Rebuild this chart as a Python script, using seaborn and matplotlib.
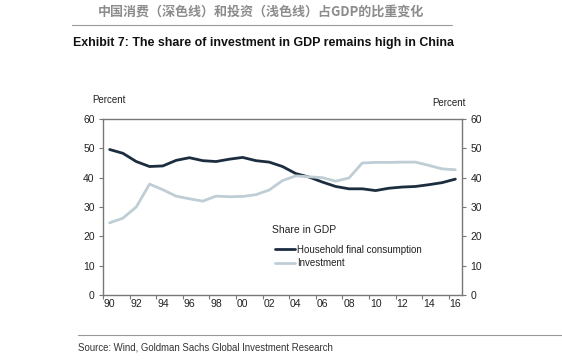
import matplotlib
matplotlib.use("Agg")
import matplotlib.pyplot as plt
import seaborn as sns
import pandas as pd
import numpy as np

years = list(range(1990, 2017))
consumption = [49.6, 48.3, 45.5, 43.8, 44.0, 45.9, 46.8, 45.8, 45.5, 46.3,
               46.9, 45.8, 45.3, 43.8, 41.4, 40.2, 38.5, 37.0, 36.2, 36.2,
               35.6, 36.4, 36.8, 37.0, 37.6, 38.3, 39.5]
investment = [24.6, 26.2, 30.0, 37.8, 35.9, 33.7, 32.8, 32.0, 33.7, 33.5,
              33.6, 34.2, 35.8, 39.0, 40.6, 40.3, 40.0, 38.8, 39.9, 45.0,
              45.2, 45.2, 45.3, 45.3, 44.2, 43.0, 42.7]
series_names = ["Household final consumption", "Investment"]
colors = ["#1b2d3e", "#bfcdd5"]
yticks = [0, 10, 20, 30, 40, 50, 60]
xtick_years = list(range(1990, 2017, 2))
xtick_labels = [f"{y % 100:02d}" for y in xtick_years]

df = pd.DataFrame({
    "year": years * 2,
    "value": consumption + investment,
    "series": [series_names[0]] * len(years) + [series_names[1]] * len(years),
})

sns.set_style("white")
plt.rcParams["font.family"] = ["Liberation Sans", "DejaVu Sans"]

fig = plt.figure(figsize=(5.62, 3.60), dpi=100)
ax = fig.add_axes([103 / 562, 1 - 295 / 360, (462 - 103) / 562, (295 - 119) / 360])

sns.lineplot(data=df, x="year", y="value", hue="series", palette=colors,
             linewidth=2.0, ax=ax, legend=True)

ax.set_xlim(1989.5, 2016.5)
ax.set_ylim(0, 60)
ax.set_xlabel("")
ax.set_ylabel("")

spine_c = "#777777"
for s in ax.spines.values():
    s.set_color(spine_c)
    s.set_linewidth(1.0)
    s.set_visible(True)

# x ticks at bin boundaries, labels centered in year bins
ax.set_xticks([y - 0.5 for y in xtick_years])
ax.set_xticklabels([])
ax.set_xticks(xtick_years, minor=True)
ax.set_xticklabels(xtick_labels, minor=True, fontsize=7.5, color="#222222")
ax.tick_params(axis="x", which="major", direction="out", length=3, width=0.8,
               color=spine_c, bottom=True)
ax.tick_params(axis="x", which="minor", length=0, pad=3)

ax.set_yticks(yticks)
ax.set_yticklabels([str(v) for v in yticks], fontsize=7.5, color="#222222")
ax.tick_params(axis="y", direction="out", length=3, width=0.8, color=spine_c,
               left=True, pad=3)

ax2 = ax.twinx()
ax2.set_ylim(0, 60)
ax2.set_yticks(yticks)
ax2.set_yticklabels([str(v) for v in yticks], fontsize=7.5, color="#222222")
ax2.tick_params(axis="y", direction="out", length=3, width=0.8, color=spine_c,
                right=True, pad=3)
for s in ax2.spines.values():
    s.set_visible(False)

ax.text(-0.03, 1.11, "Percent", transform=ax.transAxes, fontsize=7,
        ha="left", va="center", color="#222222")
ax.text(1.01, 1.09, "Percent", transform=ax.transAxes, fontsize=7,
        ha="right", va="center", color="#222222")

leg = ax.legend(loc="upper left", bbox_to_anchor=(0.479, 0.285),
                frameon=False, fontsize=7, handlelength=2.1,
                handletextpad=0.2, labelspacing=0.35, borderaxespad=0,
                borderpad=0)
for t in leg.get_texts():
    t.set_color("#222222")
ax.text((272 - 103) / 359, (295 - 230) / 176, "Share in GDP",
        transform=ax.transAxes, fontsize=7.5, ha="left", va="center",
        color="#222222")

# Titles
fig.text(0.465, 1 - 12 / 360, "中国消费（深色线）和投资（浅色线）占GDP的比重变化",
         ha="center", va="center", fontsize=9.4, fontweight="bold",
         color="#8c8c8c", family=["Noto Sans CJK SC", "DejaVu Sans"])
fig.add_artist(plt.Line2D([72 / 562, 452 / 562], [1 - 25 / 360, 1 - 25 / 360],
                          color="#9a9a9a", linewidth=0.8))
fig.text(73 / 562, 1 - 43 / 360,
         "Exhibit 7: The share of investment in GDP remains high in China",
         ha="left", va="center", fontsize=8.9, fontweight="bold", color="#111111")

fig.add_artist(plt.Line2D([78 / 562, 562 / 562], [1 - 335 / 360, 1 - 335 / 360],
                          color="#999999", linewidth=0.8))
fig.text(78 / 562, 1 - 348 / 360,
         "Source: Wind, Goldman Sachs Global Investment Research",
         ha="left", va="center", fontsize=6.9, color="#333333")

fig.savefig("out.png", dpi=100)
